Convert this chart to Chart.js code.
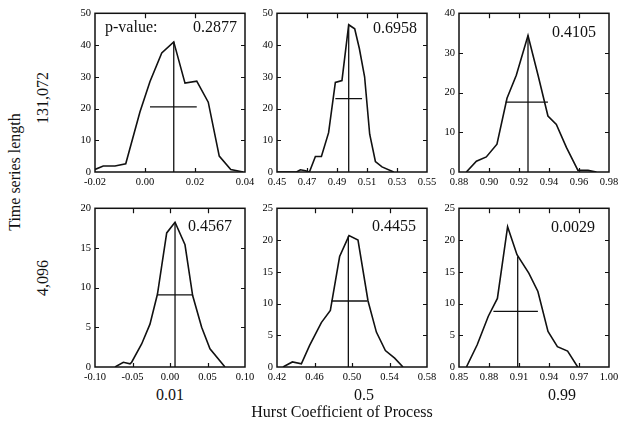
<!DOCTYPE html>
<html lang="en">
<head>
    <meta charset="UTF-8">
    <title>Hurst coefficient estimates</title>
    <script src="https://cdn.jsdelivr.net/npm/chart.js@4.4.1/dist/chart.umd.min.js"></script>
    <style>
        body {margin:0;padding:0;background:#fff;font-family:"Liberation Serif","DejaVu Serif",serif;color:#111;}
        #page {position:relative;width:624px;height:422px;overflow:hidden;}
        canvas {position:absolute;}
        .txt {position:absolute;white-space:nowrap;line-height:1;}
        .pv {font-size:16px;}
        .big {font-size:16px;}
    </style>
</head>
<body>
<div id="page"></div>
<script>
    // values, one entry per panel (top row 131,072, bottom row 4,096)
    const hurst = ['0.01', '0.5', '0.99'];
    const lengths = ['131,072', '4,096'];
    const pValues = ['0.2877', '0.6958', '0.4105', '0.4567', '0.4455', '0.0029'];

    const curveX = [
        [-0.02, -0.0167, -0.012, -0.0077, -0.002, 0.002, 0.0067, 0.0115, 0.016, 0.0207, 0.0253, 0.0297, 0.0343, 0.0393],
        [0.45, 0.463, 0.4656, 0.469, 0.4716, 0.4756, 0.4796, 0.4844, 0.4889, 0.4933, 0.4978, 0.5018, 0.5049, 0.5084, 0.5118, 0.5156, 0.52, 0.5278],
        [0.8849, 0.8916, 0.8982, 0.9053, 0.912, 0.9182, 0.926, 0.9327, 0.9393, 0.9449, 0.9516, 0.9593, 0.966, 0.9716],
        [-0.0733, -0.0622, -0.0533, -0.0511, -0.0378, -0.0267, -0.0167, -0.0111, -0.0044, 0.0067, 0.02, 0.0302, 0.0422, 0.0533, 0.0733],
        [0.4264, 0.4364, 0.446, 0.4548, 0.4673, 0.4769, 0.4868, 0.4968, 0.5064, 0.5171, 0.526, 0.5356, 0.5455, 0.5544],
        [0.8574, 0.8682, 0.8793, 0.8884, 0.8986, 0.908, 0.9198, 0.9289, 0.939, 0.9484, 0.9586, 0.9687]
    ];
    const curveY = [
        [0.8, 1.9, 1.9, 2.6, 19, 28.5, 37.5, 41, 28, 28.6, 22, 5, 0.8, 0],
        [0, 0, 0.7, 0.4, 0, 4.9, 4.9, 12.4, 28.2, 28.8, 46.4, 45.1, 38.9, 30, 11.9, 3.3, 1.6, 0],
        [0, 2.7, 3.8, 7, 18.6, 24.4, 34.4, 24.4, 14.1, 12, 6.2, 0.4, 0.4, 0],
        [0, 0.6, 0.4, 0.6, 2.9, 5.4, 9.2, 12.7, 16.9, 18.25, 15.4, 9, 5, 2.3, 0],
        [0, 0.8, 0.5, 3.4, 7, 8.9, 17.4, 20.7, 20, 10.4, 5.5, 2.6, 1.4, 0],
        [0, 3.5, 8, 10.8, 22.1, 17.7, 14.8, 11.9, 5.6, 3.2, 2.5, 0]
    ];

    // median (vertical line) and spread (horizontal bar)
    const medianX = [0.0115, 0.4978, 0.926, 0.0067, 0.4961, 0.9087];
    const medianTop = [41, 46.4, 34.4, 18.25, 20.6, 17.4];
    const spreadY = [20.5, 23.1, 17.6, 9.1, 10.4, 8.75];
    const spreadLo = [0.002, 0.4889, 0.9111, -0.0169, 0.478, 0.8844];
    const spreadHi = [0.0207, 0.5067, 0.9393, 0.0302, 0.5164, 0.9289];

    const xTicks = [
        [-0.02, 0, 0.02, 0.04],
        [0.45, 0.47, 0.49, 0.51, 0.53, 0.55],
        [0.88, 0.90, 0.92, 0.94, 0.96, 0.98],
        [-0.10, -0.05, 0, 0.05, 0.10],
        [0.42, 0.46, 0.50, 0.54, 0.58],
        [0.85, 0.88, 0.91, 0.94, 0.97, 1.00]
    ];
    const yTicks = [
        [0, 10, 20, 30, 40, 50],
        [0, 10, 20, 30, 40, 50],
        [0, 10, 20, 30, 40],
        [0, 5, 10, 15, 20],
        [0, 5, 10, 15, 20, 25],
        [0, 5, 10, 15, 20, 25]
    ];

    // layout
    const colLeft = [95, 277, 459];
    const rowTop = [11, 206];
    const plotW = 150, plotH = 161;
    const padL = 32, padT = 8, padR = 14, padB = 18;
    const pvPos = [[193, 27], [373, 28], [552, 32], [188, 226], [372, 226], [551, 227]];
    const hurstX = [170, 364, 562];

    const page = document.getElementById('page');
    const ink = '#111';

    function addText(str, x, y, cls, transform) {
        const d = document.createElement('div');
        d.className = 'txt ' + cls;
        d.textContent = str;
        d.style.left = x + 'px';
        d.style.top = y + 'px';
        d.style.transform = transform || 'translateY(-50%)';
        page.appendChild(d);
        return d;
    }

    // frame with inward ticks on all four sides
    const framePlugin = {
        id: 'frame',
        afterDatasetsDraw(chart) {
            const {ctx, chartArea: a, scales} = chart;
            ctx.save();
            ctx.strokeStyle = ink;
            ctx.lineWidth = 1.5;
            ctx.strokeRect(a.left, a.top, a.right - a.left, a.bottom - a.top);
            ctx.lineWidth = 1.2;
            ctx.beginPath();
            scales.x.ticks.forEach((t) => {
                const px = Math.round(scales.x.getPixelForValue(t.value)) + 0.5;
                if (px <= a.left + 1 || px >= a.right - 1) return;
                ctx.moveTo(px, a.bottom); ctx.lineTo(px, a.bottom - 4);
                ctx.moveTo(px, a.top); ctx.lineTo(px, a.top + 5);
            });
            scales.y.ticks.forEach((t) => {
                const py = Math.round(scales.y.getPixelForValue(t.value)) + 0.5;
                if (py <= a.top + 1 || py >= a.bottom - 1) return;
                ctx.moveTo(a.left, py); ctx.lineTo(a.left + 4, py);
                ctx.moveTo(a.right, py); ctx.lineTo(a.right - 4, py);
            });
            ctx.stroke();
            ctx.restore();
        }
    };

    for (let i = 0; i < 6; i++) {
        const col = i % 3, row = Math.floor(i / 3);
        const cv = document.createElement('canvas');
        const w = plotW + padL + padR, h = plotH + padT + padB;
        cv.width = w; cv.height = h;
        cv.style.left = (colLeft[col] - padL) + 'px';
        cv.style.top = (rowTop[row] - padT) + 'px';
        cv.style.width = w + 'px'; cv.style.height = h + 'px';
        page.appendChild(cv);

        const xt = xTicks[i], yt = yTicks[i];
        const curve = curveX[i].map((x, k) => ({x: x, y: curveY[i][k]}));
        const lineStyle = {borderColor: ink, pointRadius: 0, tension: 0, fill: false};

        new Chart(cv, {
            type: 'line',
            data: {
                datasets: [
                    Object.assign({data: curve, borderWidth: 1.6}, lineStyle),
                    Object.assign({data: [{x: medianX[i], y: 0}, {x: medianX[i], y: medianTop[i]}], borderWidth: 1.3}, lineStyle),
                    Object.assign({data: [{x: spreadLo[i], y: spreadY[i]}, {x: spreadHi[i], y: spreadY[i]}], borderWidth: 1.3}, lineStyle)
                ]
            },
            options: {
                responsive: false,
                animation: false,
                devicePixelRatio: 1,
                layout: {padding: {left: 0, top: padT, right: padR, bottom: 0}},
                plugins: {legend: {display: false}, tooltip: {enabled: false}},
                scales: {
                    x: {
                        type: 'linear',
                        min: xt[0], max: xt[xt.length - 1],
                        afterBuildTicks: (s) => { s.ticks = xt.map((v) => ({value: v})); },
                        afterFit: (s) => { s.height = padB; },
                        grid: {display: false, drawTicks: false},
                        border: {display: false},
                        ticks: {
                            padding: 4, maxRotation: 0, autoSkip: false,
                            color: '#000',
                            font: {family: 'Liberation Serif', size: 10.5},
                            callback: (v) => (Math.abs(v) < 1e-9 ? 0 : v).toFixed(2)
                        }
                    },
                    y: {
                        min: yt[0], max: yt[yt.length - 1],
                        afterBuildTicks: (s) => { s.ticks = yt.map((v) => ({value: v})); },
                        afterFit: (s) => { s.width = padL; },
                        grid: {display: false, drawTicks: false},
                        border: {display: false},
                        ticks: {
                            padding: 4, autoSkip: false,
                            color: '#000',
                            font: {family: 'Liberation Serif', size: 10.5},
                            callback: (v) => String(v)
                        }
                    }
                }
            },
            plugins: [framePlugin]
        });

        addText(pValues[i], pvPos[i][0], pvPos[i][1], 'pv');
    }

    addText('p-value:', 105, 27, 'pv');

    // column labels (Hurst coefficient of the process)
    hurst.forEach((s, c) => addText(s, hurstX[c], 395, 'big', 'translate(-50%,-50%)'));
    addText('Hurst Coefficient of Process', 342, 412, 'big', 'translate(-50%,-50%)');

    // row labels (time series length)
    const rot = 'translate(-50%,-50%) rotate(-90deg)';
    addText('Time series length', 15, 172, 'big', rot);
    lengths.forEach((s, r) => addText(s, 43, r === 0 ? 98 : 278, 'big', rot));
</script>
</body>
</html>
